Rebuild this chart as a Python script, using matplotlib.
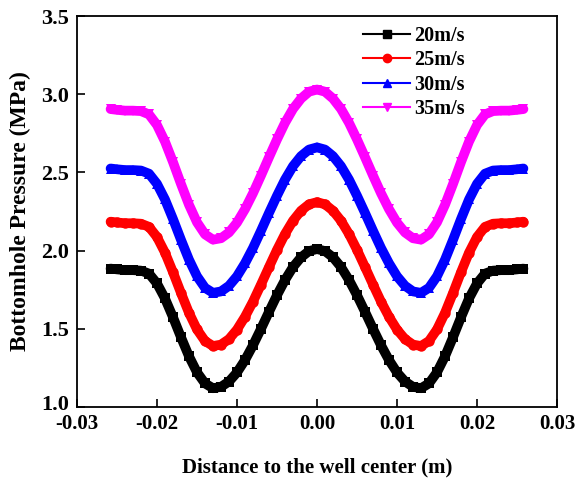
import numpy as np
import matplotlib
matplotlib.use('Agg')
import matplotlib.pyplot as plt
import matplotlib.transforms as mtransforms
from matplotlib.lines import Line2D

plt.rcParams['font.family'] = 'Liberation Serif'
plt.rcParams['font.weight'] = 'bold'

x = [-0.0258, -0.025, -0.024, -0.023, -0.022, -0.021, -0.020, -0.019, -0.018,
     -0.017, -0.016, -0.015, -0.014, -0.013, -0.012, -0.011, -0.010, -0.009,
     -0.008, -0.007, -0.006, -0.005, -0.004, -0.003, -0.002, -0.001, 0.0,
     0.001, 0.002, 0.003, 0.004, 0.005, 0.006, 0.007, 0.008, 0.009, 0.010,
     0.011, 0.012, 0.013, 0.014, 0.015, 0.016, 0.017, 0.018, 0.019, 0.020,
     0.021, 0.022, 0.023, 0.024, 0.025, 0.0258]

p20 = [1.885, 1.880, 1.875, 1.875, 1.872, 1.853, 1.790, 1.694, 1.574, 1.446,
       1.324, 1.222, 1.151, 1.120, 1.129, 1.163, 1.221, 1.300, 1.395, 1.500,
       1.609, 1.715, 1.812, 1.895, 1.957, 1.997, 2.010,
       1.997, 1.957, 1.895, 1.812, 1.715, 1.609, 1.500, 1.395, 1.300, 1.221,
       1.163, 1.129, 1.120, 1.151, 1.222, 1.324, 1.446, 1.574, 1.694, 1.790,
       1.853, 1.872, 1.875, 1.875, 1.880, 1.885]

p25 = [2.185, 2.180, 2.175, 2.175, 2.172, 2.152, 2.087, 1.987, 1.862, 1.729,
       1.602, 1.496, 1.422, 1.390, 1.399, 1.434, 1.495, 1.577, 1.674, 1.783,
       1.895, 2.005, 2.106, 2.191, 2.255, 2.296, 2.310,
       2.296, 2.255, 2.191, 2.106, 2.005, 1.895, 1.783, 1.674, 1.577, 1.495,
       1.434, 1.399, 1.390, 1.422, 1.496, 1.602, 1.729, 1.862, 1.987, 2.087,
       2.152, 2.172, 2.175, 2.175, 2.180, 2.185]

p30 = [2.525, 2.520, 2.515, 2.515, 2.512, 2.492, 2.427, 2.327, 2.202, 2.069,
       1.942, 1.836, 1.762, 1.730, 1.739, 1.775, 1.836, 1.919, 2.017, 2.127,
       2.241, 2.351, 2.454, 2.540, 2.604, 2.646, 2.660,
       2.646, 2.604, 2.540, 2.454, 2.351, 2.241, 2.127, 2.017, 1.919, 1.836,
       1.775, 1.739, 1.730, 1.762, 1.836, 1.942, 2.069, 2.202, 2.327, 2.427,
       2.492, 2.512, 2.515, 2.515, 2.520, 2.525]

p35 = [2.905, 2.900, 2.895, 2.895, 2.892, 2.871, 2.803, 2.697, 2.566, 2.426,
       2.293, 2.181, 2.104, 2.070, 2.079, 2.116, 2.179, 2.265, 2.367, 2.480,
       2.597, 2.711, 2.817, 2.906, 2.972, 3.016, 3.030,
       3.016, 2.972, 2.906, 2.817, 2.711, 2.597, 2.480, 2.367, 2.265, 2.179,
       2.116, 2.079, 2.070, 2.104, 2.181, 2.293, 2.426, 2.566, 2.697, 2.803,
       2.871, 2.892, 2.895, 2.895, 2.900, 2.905]

labels = ['20m/s', '25m/s', '30m/s', '35m/s']
colors = ['black', 'red', 'blue', 'magenta']
markers = ['s', 'o', '^', 'v']

fig = plt.figure(figsize=(5.78, 4.78), dpi=100)
ax = fig.add_axes([0.1332, 0.1485, 0.8305, 0.818])

handles = []
for y, c, m, lab in zip([p20, p25, p30, p35], colors, markers, labels):
    ax.plot(x, y, color=c, lw=7, marker=m, markersize=7.5,
            markeredgewidth=0, solid_capstyle='round')
    handles.append(Line2D([], [], color=c, lw=1.5, marker=m, markersize=6,
                          label=lab))

ax.set_xlim(-0.03, 0.03)
ax.set_ylim(1.0, 3.5)
ax.set_xticks(np.arange(-0.03, 0.031, 0.01))
ax.set_xticklabels(['-0.03', '-0.02', '-0.01', '0.00', '0.01', '0.02', '0.03'])
ax.set_yticks([1.0, 1.5, 2.0, 2.5, 3.0, 3.5])
ax.set_yticklabels(['1.0', '1.5', '2.0', '2.5', '3.0', '3.5'])
ax.tick_params(direction='in', length=6, width=1.2, top=False, right=False)
ax.tick_params(axis='x', labelsize=15, pad=5)
ax.tick_params(axis='y', labelsize=16, pad=6)
for s in ax.spines.values():
    s.set_linewidth(1.3)

# lift the bottom y label a little so it clears the x tick labels
lift = mtransforms.ScaledTranslation(0, 3 / 72, fig.dpi_scale_trans)
first = ax.get_yticklabels()[0]
first.set_transform(first.get_transform() + lift)

ax.set_xlabel('Distance to the well center (m)', fontsize=15,
              fontweight='bold', labelpad=17)
ax.set_ylabel('Bottomhole Pressure (MPa)', fontsize=17, fontweight='bold',
              labelpad=7)

ax.legend(handles=handles, loc='upper left', bbox_to_anchor=(0.58, 0.995),
          frameon=False, fontsize=14.5, handlelength=2.3, handletextpad=0.2,
          labelspacing=0.22, borderaxespad=0)

fig.savefig('out.png', dpi=100)
